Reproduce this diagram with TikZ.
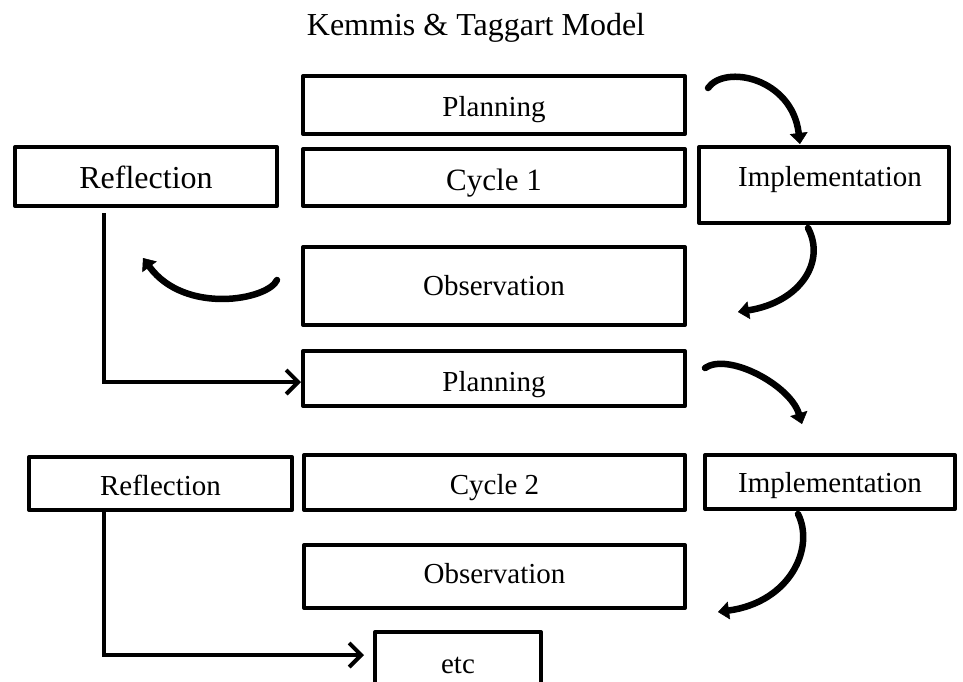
\documentclass[tikz,border=0pt]{standalone}
\usepackage{fontspec}
\setmainfont{Liberation Serif}
\usetikzlibrary{arrows.meta,calc}
\begin{document}
\begin{tikzpicture}[x=1pt,y=-1pt,
  box/.style={draw, line width=4pt, line join=round, inner sep=0pt, outer sep=0pt, text depth=0pt},
  fsz/.style={font=\fontsize{#1pt}{#1pt}\selectfont},
  elbow/.style={line width=4pt, line join=miter, -{Straight Barb[length=12pt,width=24pt,line width=4pt]}},
  curv/.style={line width=6.5pt, line cap=round, -{Triangle[width=18pt,length=11pt,line width=0.5pt]}}]
\clip (0,0) rectangle (963,681);
\fill[white] (0,0) rectangle (963,681);

\node[fsz=32, anchor=base] (title) at (476,35) {Kemmis \& Taggart Model};

% Cycle 1
\node[box, fsz=29, minimum width=382pt, minimum height=58pt, text height=22pt] (P1) at (494,105) {Planning};
\node[box, fsz=31, minimum width=382pt, minimum height=57pt, text height=25pt] (C1) at (494,177.5) {Cycle 1};
\node[box, fsz=32, minimum width=262pt, minimum height=59pt, text height=23pt] (R1) at (146,176.5) {Reflection};
\node[box, fsz=29, minimum width=250pt, minimum height=76pt, text height=2pt] (I1) at (824,185) {\hspace*{12pt}Implementation};
\node[box, fsz=29, minimum width=382pt, minimum height=78pt, text height=18pt] (O1) at (494,286) {Observation};

% Cycle 2
\node[box, fsz=29, minimum width=382pt, minimum height=55pt, text height=25pt] (P2) at (494,378.5) {Planning};
\node[box, fsz=29, minimum width=263pt, minimum height=53pt, text height=23pt] (R2) at (160.5,483.5) {Reflection};
\node[box, fsz=29, minimum width=381pt, minimum height=55pt, text height=23pt] (C2) at (494.5,482.5) {Cycle 2};
\node[box, fsz=29, minimum width=250pt, minimum height=54pt, text height=20pt] (I2) at (830,482) {Implementation};
\node[box, fsz=29, minimum width=381pt, minimum height=63pt, text height=13pt] (O2) at (494.5,576.5) {Observation};
\node[box, fsz=29, minimum width=166pt, minimum height=66pt, text height=16pt] (etc) at (458,665) {etc};

% elbow connectors
\coordinate (l1s) at ($(R1.south)+(-42,7)$);
\draw[elbow] (l1s) |- ($(P2.west)+(-2,3.5)$);
\coordinate (l2s) at ($(R2.south)+(-56.5,0)$);
\draw[elbow] (l2s) |- ($(etc.west)+(-11,-10)$);

% curved arrows
\coordinate (a1s) at (708,88);  \coordinate (a1e) at (800,144);
\coordinate (a2s) at (808,228); \coordinate (a2e) at (738,312);
\coordinate (a3s) at (277,280); \coordinate (a3e) at (143,258);
\coordinate (a4s) at (705,368); \coordinate (a4e) at (802,424);
\coordinate (a5s) at (798,514); \coordinate (a5e) at (718,612);

\draw[curv] (a1s) .. controls (725,64) and (792,78) .. (a1e);
\draw[curv] (a2s) .. controls (826,262) and (800,302) .. (a2e);
\draw[curv] (a3s) .. controls (268,300) and (185,315) .. (a3e);
\draw[curv] (a4s) .. controls (728,352) and (790,385) .. (a4e);
\draw[curv] (a5s) .. controls (815,548) and (790,602) .. (a5e);
\end{tikzpicture}
\end{document}
